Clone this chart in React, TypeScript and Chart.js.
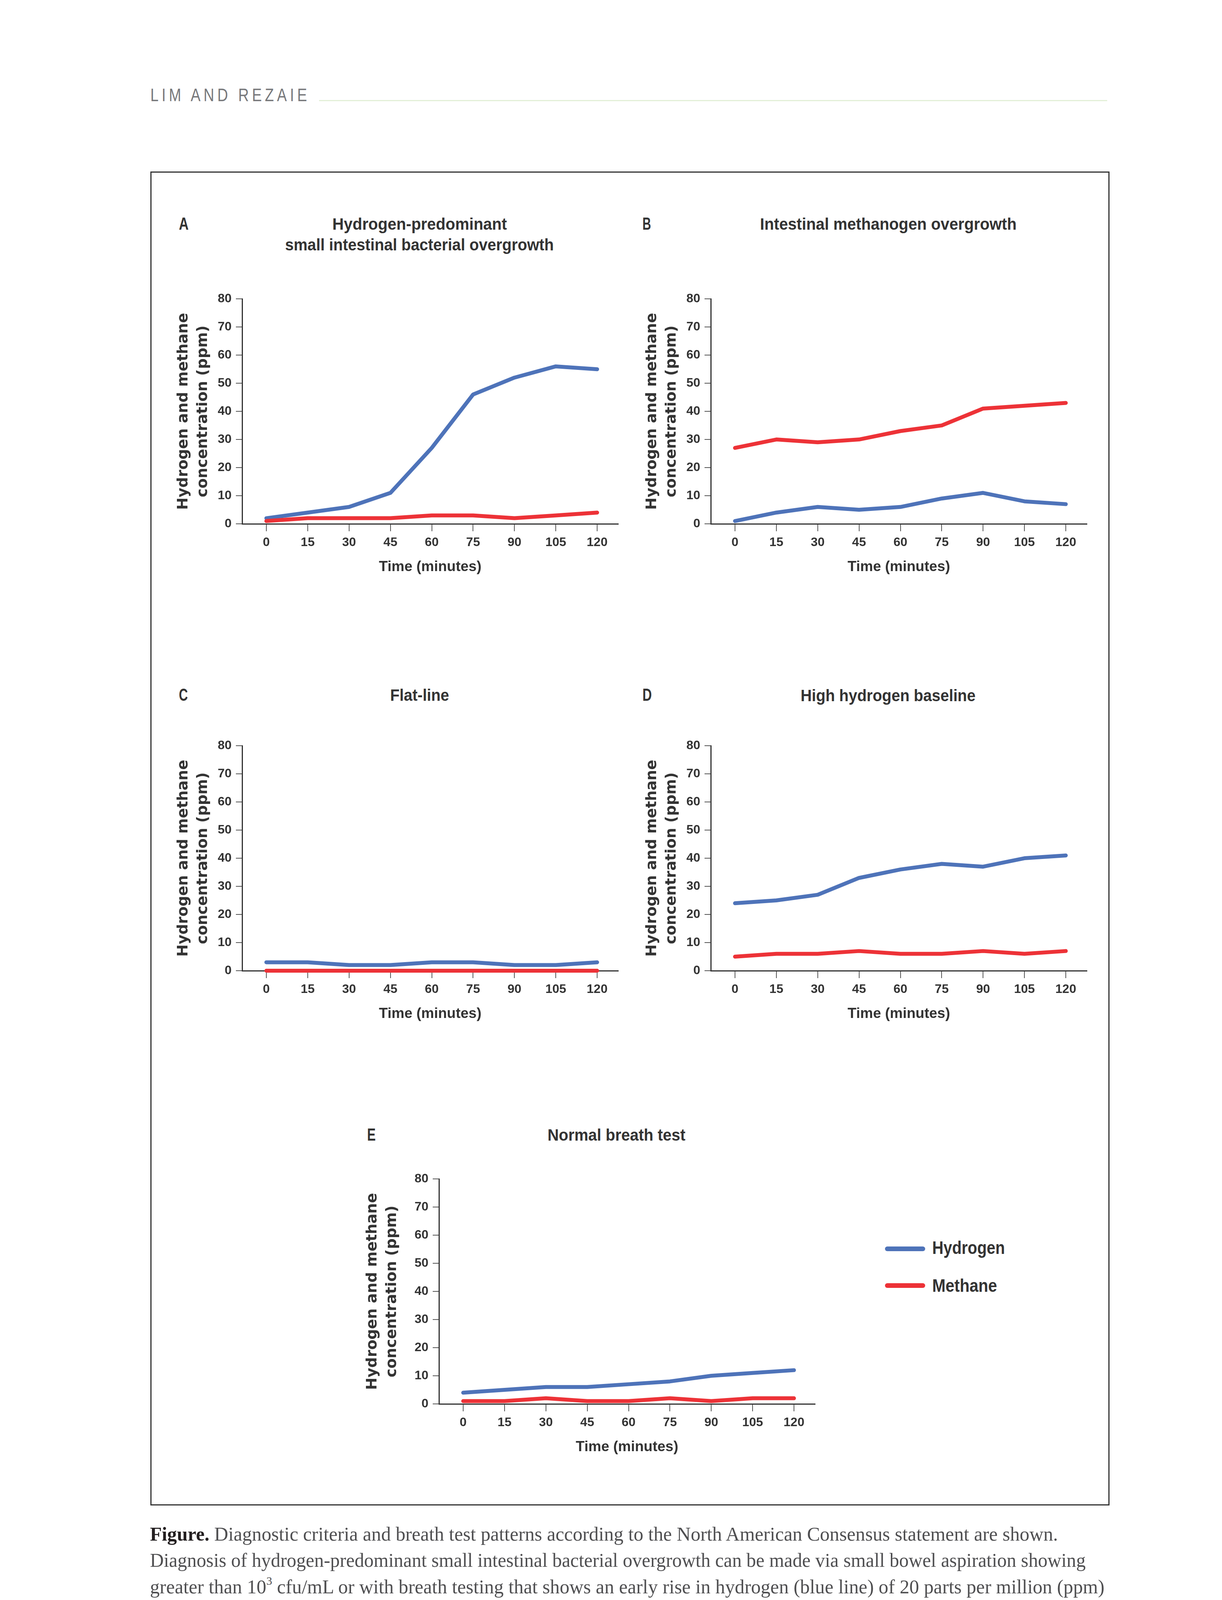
import React, { useEffect, useLayoutEffect, useRef } from "react";
import { Chart, registerables } from "chart.js";

Chart.register(...registerables);

// ---------------- data ----------------
const TIMES = [0, 15, 30, 45, 60, 75, 90, 105, 120];
const Y_TICKS = [0, 10, 20, 30, 40, 50, 60, 70, 80];

const A_HYDROGEN = [2, 4, 6, 11, 27, 46, 52, 56, 55];
const A_METHANE = [1, 2, 2, 2, 3, 3, 2, 3, 4];
const B_HYDROGEN = [1, 4, 6, 5, 6, 9, 11, 8, 7];
const B_METHANE = [27, 30, 29, 30, 33, 35, 41, 42, 43];
const C_HYDROGEN = [3, 3, 2, 2, 3, 3, 2, 2, 3];
const C_METHANE = [0, 0, 0, 0, 0, 0, 0, 0, 0];
const D_HYDROGEN = [24, 25, 27, 33, 36, 38, 37, 40, 41];
const D_METHANE = [5, 6, 6, 7, 6, 6, 7, 6, 7];
const E_HYDROGEN = [4, 5, 6, 6, 7, 8, 10, 11, 12];
const E_METHANE = [1, 1, 2, 1, 1, 2, 1, 2, 2];

const SERIES = ["Hydrogen", "Methane"];
const Y_TITLE = ["Hydrogen and methane", "concentration (ppm)"];
const X_TITLE = "Time (minutes)";

// ---------------- style ----------------
const BLUE = "#4e73b9";
const RED = "#ed3237";
const TEXT_C = "#333333";
const AXIS_C = "#333333";
const TICK_C = "#555555";
const X_MIN = -8.784;
const X_MAX = 127.65;

type PanelCfg = {
  letter: string;
  title: string[];
  h: number[];
  m: number[];
  axisX: number;
  topY: number;
  zeroY: number;
  yw: number;
  letterX: number;
  letterW: number;
  letterBase: number;
  titleCx: number;
  titleBases: number[];
  titleWs: number[];
};

const PANELS: PanelCfg[] = [
  {
    letter: "A",
    title: ["Hydrogen-predominant", "small intestinal bacterial overgrowth"],
    h: A_HYDROGEN, m: A_METHANE,
    axisX: 620, topY: 759, zeroY: 1341, yw: 190,
    letterX: 458, letterW: 25, letterBase: 588,
    titleCx: 1074, titleBases: [588, 641], titleWs: [447, 688],
  },
  {
    letter: "B",
    title: ["Intestinal methanogen overgrowth"],
    h: B_HYDROGEN, m: B_METHANE,
    axisX: 1820, topY: 759, zeroY: 1341, yw: 190,
    letterX: 1645, letterW: 22, letterBase: 588,
    titleCx: 2274, titleBases: [588], titleWs: [657],
  },
  {
    letter: "C",
    title: ["Flat-line"],
    h: C_HYDROGEN, m: C_METHANE,
    axisX: 620, topY: 1903, zeroY: 2485, yw: 190,
    letterX: 458, letterW: 23, letterBase: 1794,
    titleCx: 1074, titleBases: [1794], titleWs: [151],
  },
  {
    letter: "D",
    title: ["High hydrogen baseline"],
    h: D_HYDROGEN, m: D_METHANE,
    axisX: 1820, topY: 1903, zeroY: 2485, yw: 190,
    letterX: 1645, letterW: 24, letterBase: 1794,
    titleCx: 2274, titleBases: [1795], titleWs: [448],
  },
  {
    letter: "E",
    title: ["Normal breath test"],
    h: E_HYDROGEN, m: E_METHANE,
    axisX: 1124, topY: 3012, zeroY: 3594, yw: 210,
    letterX: 940, letterW: 22, letterBase: 2920,
    titleCx: 1578, titleBases: [2920], titleWs: [353],
  },
];

// ---------------- text helper ----------------
function FitText(props: {
  x: number; base: number; w: number; size: number;
  family?: string; weight?: string | number; color?: string;
  center?: boolean; ls?: number; children: React.ReactNode;
}) {
  const { x, base, w, size, family = "'Liberation Sans'", weight = "bold", color = TEXT_C, center = false, ls = 0, children } = props;
  const ref = useRef<HTMLDivElement>(null);
  useLayoutEffect(() => {
    const el = ref.current;
    if (!el) return;
    el.style.transform = "none";
    const nat = el.getBoundingClientRect().width - ls;
    if (nat > 0) el.style.transform = `scaleX(${w / nat})`;
  }, [w, ls]);
  const ratio = family.includes("Serif") ? 0.8375 : 0.8465;
  return (
    <div
      ref={ref}
      style={{
        position: "absolute",
        left: center ? x - w / 2 : x,
        top: base - ratio * size,
        fontFamily: family,
        fontSize: size,
        fontWeight: weight as any,
        color,
        lineHeight: `${size}px`,
        whiteSpace: "pre",
        letterSpacing: ls ? `${ls}px` : undefined,
        transformOrigin: "0 0",
      }}
    >
      {children}
    </div>
  );
}

// ---------------- chart panel ----------------
function Panel({ p }: { p: PanelCfg }) {
  const ref = useRef<HTMLCanvasElement>(null);
  const PAD_T = 24;
  const PAD_R = 26;
  const XH = 140;
  const right = p.axisX + 963;
  const left = p.axisX - p.yw;
  const top = p.topY - PAD_T;
  const W = right + PAD_R - left;
  const H = p.zeroY + XH - top;

  useEffect(() => {
    const ds = (label: string, vals: number[], color: string, order: number) => ({
      label,
      data: TIMES.map((t, i) => ({ x: t, y: vals[i] })),
      borderColor: color,
      backgroundColor: color,
      borderWidth: 10,
      pointRadius: 0,
      pointHoverRadius: 0,
      tension: 0,
      borderCapStyle: "round" as const,
      borderJoinStyle: "round" as const,
      clip: false as any,
      fill: false,
      order,
    });
    const tickFont = { family: "'Liberation Sans'", weight: "bold" as const, size: 32 };
    const chart = new Chart(ref.current as HTMLCanvasElement, {
      type: "line",
      data: { datasets: [ds(SERIES[0], p.h, BLUE, 1), ds(SERIES[1], p.m, RED, 0)] as any },
      options: {
        responsive: false,
        maintainAspectRatio: false,
        animation: false,
        devicePixelRatio: 1,
        events: [],
        layout: { padding: { top: PAD_T, right: PAD_R, left: 0, bottom: 0 } },
        plugins: { legend: { display: false }, tooltip: { enabled: false }, title: { display: false } },
        scales: {
          x: {
            type: "linear",
            min: X_MIN,
            max: X_MAX,
            afterBuildTicks: (s: any) => {
              s.ticks = TIMES.map((v) => ({ value: v }));
            },
            afterFit: (s: any) => {
              s.height = XH;
            },
            grid: { display: true, drawOnChartArea: false, drawTicks: true, tickLength: 19, color: TICK_C, lineWidth: 2 },
            border: { display: true, color: AXIS_C, width: 3 },
            ticks: {
              color: TEXT_C,
              font: tickFont,
              padding: 10,
              maxRotation: 0,
              autoSkip: false,
              callback: (v: any) => String(v),
            },
            title: {
              display: true,
              text: X_TITLE,
              color: TEXT_C,
              font: { family: "'Liberation Sans'", weight: "bold", size: 37, lineHeight: 1.2 },
              padding: { top: 0, bottom: 7 },
            },
          },
          y: {
            type: "linear",
            min: 0,
            max: 80,
            afterBuildTicks: (s: any) => {
              s.ticks = Y_TICKS.map((v) => ({ value: v }));
            },
            afterFit: (s: any) => {
              s.width = p.yw;
            },
            grid: { display: true, drawOnChartArea: false, drawTicks: true, tickLength: 16, color: TICK_C, lineWidth: 2 },
            border: { display: true, color: AXIS_C, width: 3 },
            ticks: { color: TEXT_C, font: tickFont, padding: 11, callback: (v: any) => String(v) },
            title: {
              display: true,
              text: Y_TITLE,
              color: TEXT_C,
              font: { family: "'DejaVu Sans'", weight: "bold", size: 38, lineHeight: 50 / 38 },
              padding: { top: 15, bottom: 0 },
            },
          },
        },
      } as any,
    });
    return () => chart.destroy();
  }, []);

  return (
    <>
      <canvas
        ref={ref}
        width={W}
        height={H}
        style={{ position: "absolute", left, top, width: W, height: H }}
      />
      <FitText x={p.letterX} base={p.letterBase} w={p.letterW} size={44}>
        {p.letter}
      </FitText>
      {p.title.map((t, i) => (
        <FitText key={i} x={p.titleCx} center base={p.titleBases[i]} w={p.titleWs[i]} size={43}>
          {t}
        </FitText>
      ))}
    </>
  );
}

// ---------------- caption ----------------
const CAP_SIZE = 50;
const CAP_FAMILY = "'Liberation Serif'";
const CAP_COLOR = "#4f4f51";
const B = ({ children }: { children: React.ReactNode }) => (
  <span style={{ fontWeight: "bold" }}>{children}</span>
);

const CAPTION_LINES: { base: number; w: number; content: React.ReactNode }[] = [
  {
    base: 3944, w: 2325,
    content: (
      <>
        <span style={{ fontWeight: "bold", color: "#231f20" }}>Figure.</span> Diagnostic criteria and breath test patterns according to the North American Consensus statement are shown.
      </>
    ),
  },
  { base: 4011, w: 2396, content: <>Diagnosis of hydrogen-predominant small intestinal bacterial overgrowth can be made via small bowel aspiration showing</> },
  {
    base: 4079, w: 2444,
    content: (
      <>
        greater than 10
        <span style={{ fontSize: "0.6em", position: "relative", top: "-0.75em", lineHeight: 0 }}>3</span> cfu/mL or with breath testing that shows an early rise in hydrogen (blue line) of 20 parts per million (ppm)
      </>
    ),
  },
  {
    base: 4146, w: 2428,
    content: (
      <>
        or more above baseline by 90 minutes (<B>A</B>). Intestinal methanogen overgrowth is defined as methane (red line) of 10 ppm or
      </>
    ),
  },
  {
    base: 4214, w: 2392,
    content: (
      <>
        more at any point during the test (<B>B</B>). Flat-line pattern is defined as no methane and low fixed hydrogen production (low
      </>
    ),
  },
  {
    base: 4281, w: 2364,
    content: (
      <>
        fixed hydrogen ≤3 ppm and no rise &gt;1 ppm above baseline) (<B>C</B>). High baseline hydrogen is defined as baseline hydrogen
      </>
    ),
  },
  {
    base: 4347, w: 1632,
    content: (
      <>
        greater than 20 ppm with no excessive methane (<B>D</B>). Normal breath test result (<B>E</B>).
      </>
    ),
  },
];

export default function App() {
  return (
    <div
      style={{
        position: "absolute",
        left: 0,
        top: 0,
        width: 3129,
        height: 4796,
        background: "#ffffff",
        overflow: "hidden",
      }}
    >
      {/* running header */}
      <FitText x={385} base={259} w={401} size={47} weight="normal" color="#77787b" ls={10}>
        LIM AND REZAIE
      </FitText>
      <div style={{ position: "absolute", left: 817, top: 256, width: 2018, height: 3, background: "#e3efd8" }} />

      {/* figure frame */}
      <div
        style={{
          position: "absolute",
          left: 385,
          top: 439,
          width: 2456,
          height: 3415,
          border: "3px solid #333333",
          boxSizing: "border-box",
        }}
      />

      {PANELS.map((p) => (
        <Panel key={p.letter} p={p} />
      ))}

      {/* legend */}
      <div style={{ position: "absolute", left: 2266, top: 3191, width: 103, height: 12, borderRadius: 6, background: BLUE }} />
      <FitText x={2387} base={3210} w={186} size={47}>
        {SERIES[0]}
      </FitText>
      <div style={{ position: "absolute", left: 2266, top: 3285, width: 103, height: 12, borderRadius: 6, background: RED }} />
      <FitText x={2387} base={3307} w={166} size={47}>
        {SERIES[1]}
      </FitText>

      {/* caption */}
      {CAPTION_LINES.map((l, i) => (
        <FitText key={i} x={384} base={l.base} w={l.w} size={CAP_SIZE} family={CAP_FAMILY} weight="normal" color={CAP_COLOR}>
          {l.content}
        </FitText>
      ))}

      {/* footer */}
      <FitText x={339} base={4557} w={68} size={44} weight="normal" color="#7f98b4">
        142
      </FitText>
      <FitText x={489} base={4557} w={1216} size={44} weight="normal" color="#6d6e71">
        {"Gastroenterology & Hepatology  Volume 19, Issue 3  March 2023"}
      </FitText>
    </div>
  );
}
